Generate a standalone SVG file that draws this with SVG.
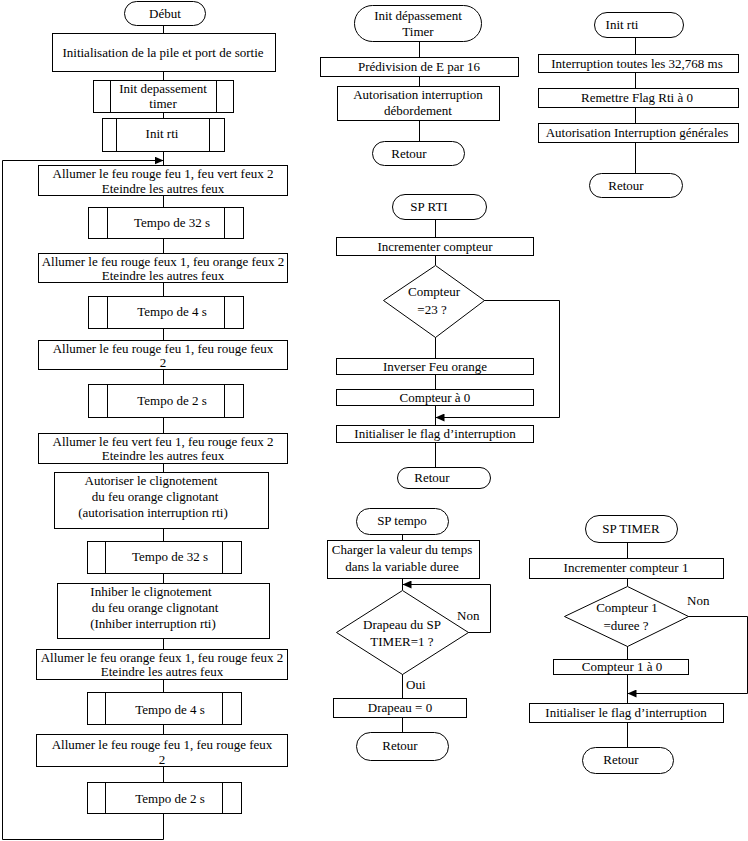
<svg xmlns="http://www.w3.org/2000/svg" width="748" height="841" viewBox="0 0 748 841">
<style>
.b{fill:#fff;stroke:#000;stroke-width:1}
.l{fill:none;stroke:#000;stroke-width:1}
text{font-family:"Liberation Serif","Times New Roman",serif;font-size:13px;fill:#000;text-anchor:middle}
.st{text-anchor:start}
</style>
<defs>
<marker id="ah" markerWidth="10" markerHeight="8" refX="9" refY="4" orient="auto" markerUnits="userSpaceOnUse">
<path d="M0,0 L9,4 L0,8 Z" fill="#000"/>
</marker>
</defs>
<rect width="748" height="841" fill="#fff"/>
<g id="connectors">
<path class="l" d="M163.5,25V33M163.5,71V80M163.5,112V118M163.5,151V165M163.5,195V207M163.5,238V253M163.5,282V296M163.5,328V340M163.5,369V384M163.5,417V433M163.5,463V472M163.5,528V541M163.5,573V583M163.5,638V649M163.5,679V692M163.5,724V734M163.5,766V782"/>
<path class="l" d="M163.5,813V839.5H2.5V160.5H163.5" marker-end="url(#ah)"/>
<path class="l" d="M419.5,42V57M419.5,77V86M419.5,120V141"/>
<path class="l" d="M635.5,38V54M635.5,72V88M635.5,107V123M635.5,142V173"/>
<path class="l" d="M435.5,219V237M435.5,255V265M435.5,337V358M435.5,374V389M435.5,405V425M435.5,442V467"/>
<path class="l" d="M484,300.5H559.5V417.5H435.5" marker-end="url(#ah)"/>
<path class="l" d="M402.5,534V540M402.5,578V590M402.5,674V698M402.5,717V732"/>
<path class="l" d="M468,632.5H490.5V584.5H402.5" marker-end="url(#ah)"/>
<path class="l" d="M627.5,542V558M627.5,578V586M627.5,646V659M627.5,674V703M627.5,722V747"/>
<path class="l" d="M688,616.5H747.5V693.5H627.5" marker-end="url(#ah)"/>
</g>
<g id="debut"><rect class="b" x="124.5" y="1.5" width="81" height="24" rx="12"/><text x="165" y="18">Début</text></g>
<g id="init-pile"><rect class="b" x="52.5" y="33.5" width="223" height="38"/><text x="163" y="57">Initialisation de la pile et port de sortie</text></g>
<g id="init-dep"><rect class="b" x="93.5" y="80.5" width="140" height="32"/><path class="l" d="M110.5,80.5V112.5M216.5,80.5V112.5"/><text x="163" y="93">Init depassement</text><text x="163" y="108">timer</text></g>
<g id="init-rti"><rect class="b" x="102.5" y="118.5" width="122" height="33"/><path class="l" d="M116.5,118.5V151.5M209.5,118.5V151.5"/><text x="162" y="138">Init rti</text></g>
<g id="a1"><rect class="b" x="38.5" y="165.5" width="249" height="30"/><text x="163" y="178">Allumer le feu rouge feu 1, feu vert feux 2</text><text x="163" y="193">Eteindre les autres feux</text></g>
<g id="t1"><rect class="b" x="88.5" y="207.5" width="155" height="31"/><path class="l" d="M107.5,207.5V238.5M224.5,207.5V238.5"/><text x="172" y="227">Tempo de 32 s</text></g>
<g id="a2"><rect class="b" x="38.5" y="253.5" width="249" height="29"/><text x="163" y="266">Allumer le feu rouge feux 1, feu orange feux 2</text><text x="163" y="280">Eteindre les autres feux</text></g>
<g id="t2"><rect class="b" x="88.5" y="296.5" width="155" height="32"/><path class="l" d="M107.5,296.5V328.5M224.5,296.5V328.5"/><text x="172" y="316">Tempo de 4 s</text></g>
<g id="a3"><rect class="b" x="38.5" y="340.5" width="249" height="29"/><text x="163" y="353">Allumer le feu rouge feu 1, feu rouge feux</text><text x="163" y="367">2</text></g>
<g id="t3"><rect class="b" x="88.5" y="384.5" width="155" height="33"/><path class="l" d="M107.5,384.5V417.5M224.5,384.5V417.5"/><text x="172" y="405">Tempo de 2 s</text></g>
<g id="a4"><rect class="b" x="38.5" y="433.5" width="249" height="30"/><text x="163" y="446">Allumer le feu vert feu 1, feu rouge feux 2</text><text x="163" y="460">Eteindre les autres feux</text></g>
<g id="a5"><rect class="b" x="54.5" y="472.5" width="214" height="56"/><text x="151" y="485">Autoriser le clignotement</text><text x="155" y="501">du feu orange clignotant</text><text x="153" y="517">(autorisation interruption rti)</text></g>
<g id="t4"><rect class="b" x="87.5" y="541.5" width="154" height="32"/><path class="l" d="M105.5,541.5V573.5M222.5,541.5V573.5"/><text x="170" y="561">Tempo de 32 s</text></g>
<g id="a6"><rect class="b" x="57.5" y="583.5" width="212" height="55"/><text x="151" y="596">Inhiber le clignotement</text><text x="155" y="612">du feu orange clignotant</text><text x="153" y="628">(Inhiber interruption rti)</text></g>
<g id="a7"><rect class="b" x="36.5" y="649.5" width="251" height="30"/><text x="162" y="662">Allumer le feu orange feux 1, feu rouge feux 2</text><text x="162" y="676">Eteindre les autres feux</text></g>
<g id="t5"><rect class="b" x="87.5" y="692.5" width="154" height="32"/><path class="l" d="M105.5,692.5V724.5M222.5,692.5V724.5"/><text x="170" y="714">Tempo de 4 s</text></g>
<g id="a8"><rect class="b" x="36.5" y="734.5" width="251" height="32"/><text x="162" y="749">Allumer le feu rouge feu 1, feu rouge feux</text><text x="162" y="764">2</text></g>
<g id="t6"><rect class="b" x="87.5" y="782.5" width="154" height="31"/><path class="l" d="M105.5,782.5V813.5M222.5,782.5V813.5"/><text x="170" y="803">Tempo de 2 s</text></g>

<g id="idt"><rect class="b" x="354.5" y="5.5" width="127" height="36" rx="18"/><text x="418" y="20">Init dépassement</text><text x="418" y="36">Timer</text></g>
<g id="prediv"><rect class="b" x="320.5" y="57.5" width="198" height="19"/><text x="419" y="71">Prédivision de E par 16</text></g>
<g id="autdeb"><rect class="b" x="337.5" y="86.5" width="162" height="34"/><text x="418" y="99">Autorisation interruption</text><text x="418" y="115">débordement</text></g>
<g id="ret1"><rect class="b" x="372.5" y="141.5" width="92" height="24" rx="12"/><text x="409" y="158">Retour</text></g>

<g id="irti"><rect class="b" x="594.5" y="12.5" width="89" height="25" rx="12.5"/><text x="622" y="29">Init rti</text></g>
<g id="int32"><rect class="b" x="538.5" y="54.5" width="200" height="18"/><text x="637" y="68">Interruption toutes les 32,768 ms</text></g>
<g id="remet"><rect class="b" x="538.5" y="88.5" width="200" height="19"/><text x="637" y="102">Remettre Flag Rti à 0</text></g>
<g id="autgen"><rect class="b" x="538.5" y="123.5" width="200" height="19"/><text x="637" y="137">Autorisation Interruption générales</text></g>
<g id="ret2"><rect class="b" x="589.5" y="173.5" width="93" height="24" rx="12"/><text x="626" y="190">Retour</text></g>

<g id="sprti"><rect class="b" x="392.5" y="194.5" width="94" height="25" rx="12.5"/><text x="429" y="211">SP RTI</text></g>
<g id="incc"><rect class="b" x="336.5" y="237.5" width="197" height="18"/><text x="435" y="251">Incrementer compteur</text></g>
<g id="d23"><polygon class="b" points="435.5,265.5 484.5,300.5 435.5,337.5 383.5,300.5"/><text x="434" y="296">Compteur</text><text x="432" y="314">=23 ?</text></g>
<g id="invf"><rect class="b" x="336.5" y="358.5" width="197" height="16"/><text x="435" y="371">Inverser Feu orange</text></g>
<g id="c0"><rect class="b" x="336.5" y="389.5" width="197" height="16"/><text x="435" y="402">Compteur à 0</text></g>
<g id="iflag1"><rect class="b" x="336.5" y="425.5" width="197" height="17"/><text x="435" y="438">Initialiser le flag d’interruption</text></g>
<g id="ret3"><rect class="b" x="397.5" y="467.5" width="93" height="21" rx="10.5"/><text x="432" y="482">Retour</text></g>

<g id="sptempo"><rect class="b" x="356.5" y="508.5" width="92" height="26" rx="13"/><text x="402" y="525">SP tempo</text></g>
<g id="charg"><rect class="b" x="327.5" y="540.5" width="152" height="38"/><text x="402" y="554">Charger la valeur du temps</text><text x="402" y="571">dans la variable duree</text></g>
<g id="dtimer"><polygon class="b" points="402.5,590.5 468.5,632.5 402.5,674.5 336.5,632.5"/><text x="402" y="629">Drapeau du SP</text><text x="402" y="646">TIMER=1 ?</text></g>
<text class="st" x="457" y="620">Non</text>
<text class="st" x="406" y="689">Oui</text>
<g id="drap0"><rect class="b" x="333.5" y="698.5" width="133" height="19"/><text x="400" y="712">Drapeau = 0</text></g>
<g id="ret4"><rect class="b" x="356.5" y="732.5" width="92" height="28" rx="14"/><text x="400" y="750">Retour</text></g>

<g id="sptimer"><rect class="b" x="585.5" y="515.5" width="92" height="27" rx="13.5"/><text x="631" y="533">SP TIMER</text></g>
<g id="incc1"><rect class="b" x="529.5" y="558.5" width="194" height="20"/><text x="626" y="572">Incrementer compteur 1</text></g>
<g id="ddur"><polygon class="b" points="627.5,586.5 688.5,616.5 627.5,646.5 564.5,616.5"/><text x="627" y="612">Compteur 1</text><text x="626" y="630">=duree ?</text></g>
<text class="st" x="687" y="605">Non</text>
<g id="c10"><rect class="b" x="553.5" y="659.5" width="135" height="15"/><text x="622" y="671">Compteur 1 à 0</text></g>
<g id="iflag2"><rect class="b" x="529.5" y="703.5" width="194" height="19"/><text x="626" y="717">Initialiser le flag d’interruption</text></g>
<g id="ret5"><rect class="b" x="582.5" y="747.5" width="91" height="26" rx="13"/><text x="621" y="764">Retour</text></g>
</svg>
